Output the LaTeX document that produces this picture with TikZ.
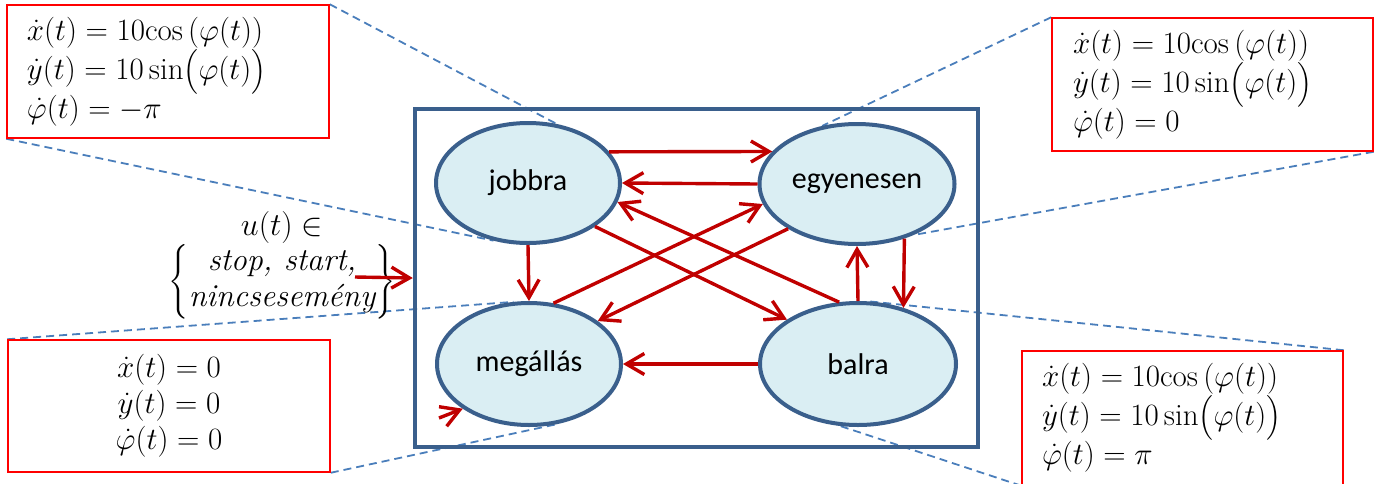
\RequirePackage{fix-cm}
\documentclass[tikz,border=0pt]{standalone}
\usepackage{amsmath}
\usepackage{fontspec}
\newfontfamily\calibri{Carlito}
\usetikzlibrary{shapes.geometric,arrows.meta,backgrounds}
\definecolor{stateborder}{HTML}{3A5F8C}
\definecolor{statefill}{HTML}{DAEEF3}
\definecolor{arrred}{HTML}{C00000}
\definecolor{dashblue}{HTML}{4A7EBB}
\definecolor{boxred}{HTML}{FF0000}
\begin{document}
\begin{tikzpicture}[x=1pt,y=-1pt,
  state/.style={ellipse, draw=stateborder, fill=statefill, line width=4pt, inner sep=0pt,
    font=\calibri\fontsize{30}{36}\selectfont},
  tr/.style={draw=arrred, line width=3.4pt, -{Straight Barb[length=18pt,width=21pt]}},
  callout/.style={draw=dashblue, line width=1.8pt, dash pattern=on 8pt off 5pt},
  eqbox/.style={draw=boxred, line width=1.5pt, inner ysep=0pt,
    font=\fontsize{31}{36}\selectfont},
]
\useasboundingbox (0,0) rectangle (1382,483);

% outer system box
\node[draw=stateborder, line width=4.5pt, minimum width=563pt, minimum height=338pt, inner sep=0pt] (sys) at (696.5,278) {};

% states
\node[state, minimum width=184pt, minimum height=120pt] (J) at (528,183) {jobbra};
\node[state, minimum width=195pt, minimum height=120pt] (E) at (857,184) {egyenesen};
\node[state, minimum width=184pt, minimum height=122pt] (M) at (529,364) {megállás};
\node[state, minimum width=196pt, minimum height=122pt] (B) at (858,364) {balra};

% equation boxes
\node[eqbox, minimum height=133pt, text width=282pt, inner xsep=20pt, align=left] (TL) at (168,71.5)
  {\mbox{$\dot{x}(t) = 10\mathrm{cos}\,(\varphi(t))$}\\ \mbox{$\dot{y}(t) = 10\sin\bigl(\varphi(t)\bigr)$}\\ \mbox{$\dot{\varphi}(t) = -\pi$}};
\node[eqbox, minimum height=133pt, text width=279pt, inner xsep=21pt, align=left] (TR) at (1212.5,84.5)
  {\mbox{$\dot{x}(t) = 10\mathrm{cos}\,(\varphi(t))$}\\ \mbox{$\dot{y}(t) = 10\sin\bigl(\varphi(t)\bigr)$}\\ \mbox{$\dot{\varphi}(t) = 0$}};
\node[eqbox, minimum height=132pt, text width=282pt, inner xsep=20pt, align=center] (BL) at (169,406)
  {\mbox{$\dot{x}(t) = 0$}\\ \mbox{$\dot{y}(t) = 0$}\\ \mbox{$\dot{\varphi}(t) = 0$}};
\node[eqbox, minimum height=134pt, text width=281pt, inner xsep=20pt, align=left] (BR) at (1182.5,418)
  {\mbox{$\dot{x}(t) = 10\mathrm{cos}\,(\varphi(t))$}\\ \mbox{$\dot{y}(t) = 10\sin\bigl(\varphi(t)\bigr)$}\\ \mbox{$\dot{\varphi}(t) = \pi$}};

% input label
\node[font=\fontsize{32}{36}\selectfont, align=center, inner sep=0pt] (U) at (282,265)
  {\mbox{$u(t) \in$}\\ \mbox{$\left\{\begin{matrix}\textit{stop, start,}\\ \textit{nincsesemény}\end{matrix}\right\}$}};

% callout lines
\begin{scope}[on background layer]
\draw[callout] (TL.north east) -- (J.64.6);
\draw[callout] (TL.south west) -- (J.-121);
\draw[callout] (TR.north west) -- (E.121.2);
\draw[callout] (TR.south east) -- (E.-42);
\draw[callout] (BL.north west) -- (M.104.5);
\draw[callout] (BL.south east) -- (M.-65.3);
\draw[callout] (BR.north east) -- (B.79);
\draw[callout] (BR.south west) -- (B.-106.4);
\end{scope}

% transitions
\draw[tr] (J.21.4) -- (E.159.1);
\draw[tr] (E.180) -- (J.0);
\draw[tr] (B.107.9) -- (J.-12.5);
\draw[tr] (J.-33.7) -- (B.148.2);
\draw[tr] (J.-90) -- (M.90);
\draw[tr] (M.68.8) -- (E.-168.9);
\draw[tr] (E.-147.9) -- (M.32.9);
\draw[tr] (B.180) -- (M.0);
\draw[tr] (B.90) -- (E.-90);
\draw[tr] (E.-49.6) -- (B.51.2);
\coordinate (init) at (439,418);
\draw[tr] (init) -- (M.-146.5);
\coordinate (uin) at (355,277);
\draw[tr] (uin) -- (sys.west);
\end{tikzpicture}
\end{document}
